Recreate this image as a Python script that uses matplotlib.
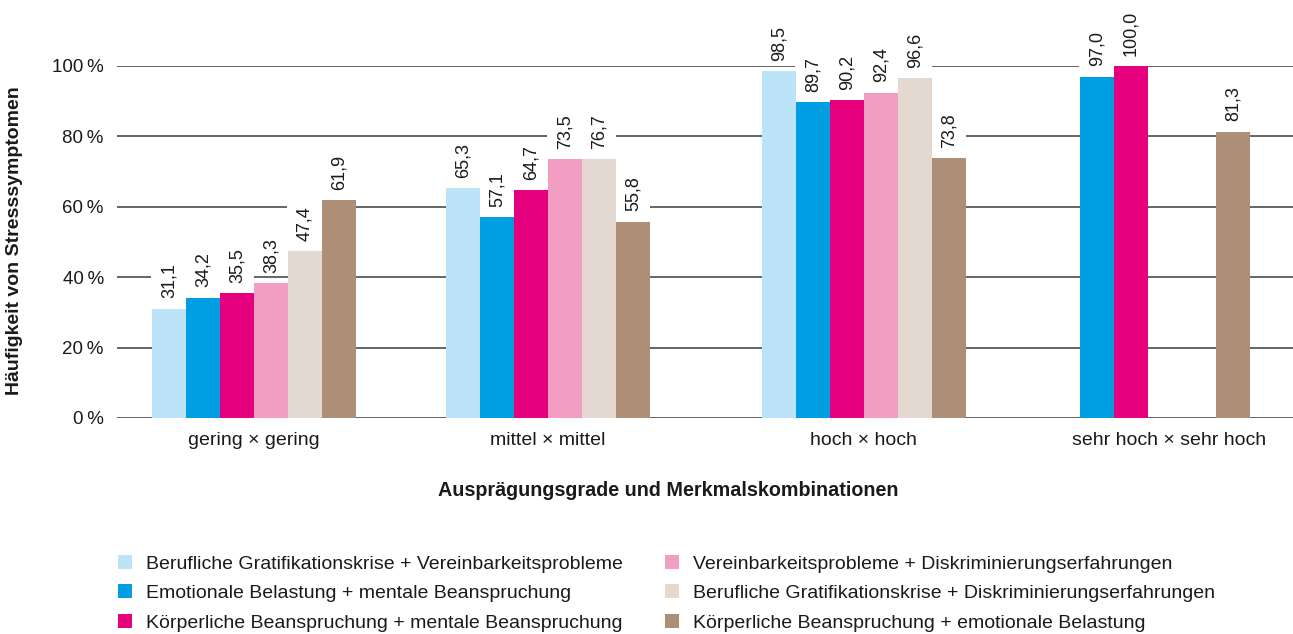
import numpy as np
import matplotlib
matplotlib.use("Agg")
import matplotlib.pyplot as plt
from matplotlib.patches import Patch, Rectangle

plt.rcParams['font.family'] = ['Liberation Sans', 'DejaVu Sans']

# ---- data ----
categories = ["gering × gering", "mittel × mittel", "hoch × hoch", "sehr hoch × sehr hoch"]
series_names = [
    "Berufliche Gratifikationskrise + Vereinbarkeitsprobleme",
    "Emotionale Belastung + mentale Beanspruchung",
    "Körperliche Beanspruchung + mentale Beanspruchung",
    "Vereinbarkeitsprobleme + Diskriminierungserfahrungen",
    "Berufliche Gratifikationskrise + Diskriminierungserfahrungen",
    "Körperliche Beanspruchung + emotionale Belastung",
]
# bar heights as drawn (per series, per category); None = no bar
s_grat_vereinb = [31.1, 65.3, 98.5, None]
s_emo_mental = [34.2, 57.1, 89.7, 97.0]
s_koerp_mental = [35.5, 64.7, 90.2, 100.0]
s_vereinb_diskr = [38.3, 73.5, 92.4, None]
s_grat_diskr = [47.4, 73.5, 96.6, None]
s_koerp_emo = [61.9, 55.8, 73.8, 81.3]
# printed value labels
l_grat_vereinb = ["31,1", "65,3", "98,5", ""]
l_emo_mental = ["34,2", "57,1", "89,7", "97,0"]
l_koerp_mental = ["35,5", "64,7", "90,2", "100,0"]
l_vereinb_diskr = ["38,3", "73,5", "92,4", ""]
l_grat_diskr = ["47,4", "76,7", "96,6", ""]
l_koerp_emo = ["61,9", "55,8", "73,8", "81,3"]
y_ticks = [0, 20, 40, 60, 80, 100]
y_ticklabels = ["0\u2009%", "20\u2009%", "40\u2009%", "60\u2009%", "80\u2009%", "100\u2009%"]

series = [s_grat_vereinb, s_emo_mental, s_koerp_mental, s_vereinb_diskr, s_grat_diskr, s_koerp_emo]
labels = [l_grat_vereinb, l_emo_mental, l_koerp_mental, l_vereinb_diskr, l_grat_diskr, l_koerp_emo]
colors = ["#BDE3F8", "#009FE3", "#E5007D", "#F19EC2", "#E3D9D0", "#AD8F77"]

# ---- layout ----
W, H = 1293, 634
fig = plt.figure(figsize=(W / 100, H / 100), dpi=100)
ax_left, ax_right, ax_top, ax_bot = 117, 1293, 66, 418
ax = fig.add_axes([ax_left / W, 1 - ax_bot / H, (ax_right - ax_left) / W, (ax_bot - ax_top) / H])

group_centers = [136.5, 430.5, 746.5, 1030.5]
tick_positions = [136.5, 430.5, 746.5, 1052]
bar_w = 34
txt = "#1a1a1a"

ax.set_xlim(0, ax_right - ax_left)
ax.set_ylim(0, 100)

annots = []
for i, (vals, labs, col) in enumerate(zip(series, labels, colors)):
    for g, (v, lab) in enumerate(zip(vals, labs)):
        if v is None:
            continue
        x = group_centers[g] + (i - 2.5) * bar_w
        ax.bar(x, v, width=bar_w, color=col, zorder=3, linewidth=0)
        a = ax.annotate(lab, (x, v), xytext=(0.4, 7.5), textcoords="offset points",
                        rotation=90, ha="center", va="bottom", fontsize=13, color=txt,
                        zorder=2.6)
        annots.append((a, x))

ax.set_yticks(y_ticks)
ax.set_yticklabels(y_ticklabels, fontsize=13.5, color=txt)
ax.set_xticks(tick_positions)
ax.set_xticklabels(categories, fontsize=14, color=txt)
ax.tick_params(axis="both", length=0)
ax.tick_params(axis="y", pad=9.5)
ax.tick_params(axis="x", pad=10)
for yv in y_ticks:
    ax.axhline(yv, color="#3a3a3a", lw=1.1, zorder=1)
for sp in ax.spines.values():
    sp.set_visible(False)

# white backgrounds behind value labels (bar-wide, hiding gridlines)
fig.canvas.draw()
renderer = fig.canvas.get_renderer()
inv = ax.transData.inverted()
for a, x in annots:
    ext = a.get_window_extent(renderer)
    (_, y0), (_, y1) = inv.transform([(ext.x0, ext.y0 - 2.5), (ext.x1, ext.y1 + 2.5)])
    ax.add_patch(Rectangle((x - bar_w / 2 - 0.5, y0), bar_w + 1, y1 - y0,
                           facecolor="white", edgecolor="none", zorder=2.5, clip_on=False))

fig.text(15 / W, 1 - 241 / H, "Häufigkeit von Stresssymptomen", rotation=90,
         ha="center", va="center", fontsize=14, fontweight="bold", color=txt)
fig.text(668 / W, 1 - 490 / H, "Ausprägungsgrade und Merkmalskombinationen",
         ha="center", va="center", fontsize=14.2, fontweight="bold", color=txt)

handles = [Patch(facecolor=c, edgecolor="none") for c in colors]
leg = fig.legend(handles, series_names, loc="upper left", bbox_to_anchor=(118 / W, 1 - 555 / H),
                 ncol=2, frameon=False, fontsize=14, handlelength=0.72, handleheight=0.72,
                 handletextpad=0.7, labelspacing=0.6, columnspacing=2.2, borderpad=0,
                 borderaxespad=0)
for t in leg.get_texts():
    t.set_color(txt)

fig.savefig("out.png", dpi=100)
